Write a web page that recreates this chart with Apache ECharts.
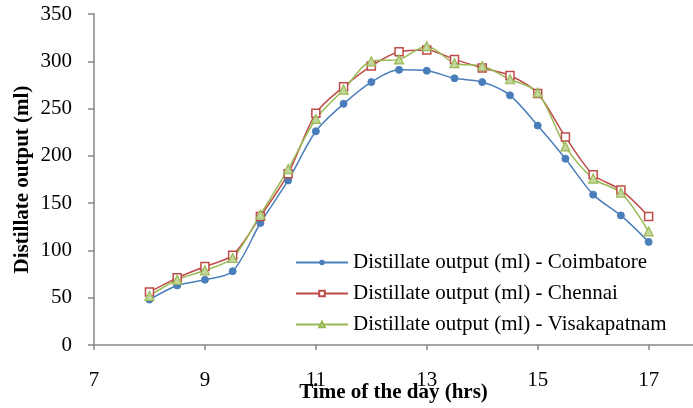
<!DOCTYPE html>
<html>
<head>
<meta charset="utf-8">
<script src="https://cdn.jsdelivr.net/npm/echarts@6/dist/echarts.min.js"></script>
<style>
html,body{margin:0;padding:0;background:#fff;}
#chart{width:693px;height:408px;}
</style>
</head>
<body>
<div id="chart"></div>
<script>
const hours = [8, 8.5, 9, 9.5, 10, 10.5, 11, 11.5, 12, 12.5, 13, 13.5, 14, 14.5, 15, 15.5, 16, 16.5, 17];
const coimbatore = [48, 63, 69, 78, 129, 174, 226, 255, 278, 291, 290, 282, 278, 264, 232, 197, 159, 137, 109];
const chennai = [56, 71, 83, 95, 136, 181, 245, 273, 295, 310, 312, 302, 293, 285, 266, 220, 180, 164, 136];
const visakapatnam = [52, 69, 79, 92, 138, 186, 239, 270, 300, 302, 316, 298, 295, 281, 267, 210, 176, 161, 120];
const xTicks = [7, 9, 11, 13, 15, 17];
const seriesNames = [
  'Distillate output (ml) - Coimbatore',
  'Distillate output (ml) - Chennai',
  'Distillate output (ml) - Visakapatnam'
];
const xTitle = 'Time of the day (hrs)';
const yTitle = 'Distillate output (ml)';

const pair = arr => hours.map((h, i) => [h, arr[i]]);
const FONT = '"Liberation Serif", "Times New Roman", serif';
const axisGray = '#868686';

const chart = echarts.init(document.getElementById('chart'), null, {renderer: 'canvas'});
chart.setOption({
  animation: false,
  backgroundColor: '#fff',
  textStyle: {fontFamily: FONT},
  grid: {left: 94, top: 14, bottom: 63, right: 0, containLabel: false, outerBoundsMode: 'none'},
  xAxis: {
    type: 'value', min: 7, max: 17.8, interval: 2,
    name: xTitle, nameLocation: 'middle', nameGap: 37, nameMoveOverlap: false,
    nameTextStyle: {fontFamily: FONT, fontSize: 21, fontWeight: 'bold', color: '#000'},
    axisLine: {onZero: false, lineStyle: {color: axisGray, width: 1.5}},
    axisTick: {show: true, inside: false, length: 5, lineStyle: {color: axisGray, width: 1.5}},
    axisLabel: {
      fontFamily: FONT, fontSize: 21, color: '#000', margin: 25,
      showMaxLabel: false,
      formatter: v => (xTicks.indexOf(v) >= 0 ? String(v) : '')
    },
    splitLine: {show: false}
  },
  yAxis: {
    type: 'value', min: 0, max: 350, interval: 50,
    name: yTitle, nameLocation: 'middle', nameGap: 61, nameMoveOverlap: false,
    nameTextStyle: {fontFamily: FONT, fontSize: 21, fontWeight: 'bold', color: '#000'},
    axisLine: {show: true, lineStyle: {color: axisGray, width: 1.5}},
    axisTick: {show: true, inside: false, length: 6, lineStyle: {color: axisGray, width: 1.5}},
    axisLabel: {fontFamily: FONT, fontSize: 21, color: '#000', margin: 22},
    splitLine: {show: false}
  },
  legend: {
    orient: 'vertical', left: 295, top: 252, padding: 0,
    itemWidth: 52, itemHeight: 7, itemGap: 10,
    textStyle: {fontFamily: FONT, fontSize: 21, color: '#000'},
    data: seriesNames
  },
  series: [
    {
      name: seriesNames[0], type: 'line', smooth: 0.3,
      data: pair(coimbatore),
      symbol: 'circle', symbolSize: 7,
      lineStyle: {color: '#4A7EBB', width: 1.5},
      itemStyle: {color: '#4A7EBB', borderColor: '#4A7EBB'}
    },
    {
      name: seriesNames[1], type: 'line', smooth: 0.3,
      data: pair(chennai),
      symbol: 'rect', symbolSize: 8,
      lineStyle: {color: '#BE4B48', width: 1.5},
      itemStyle: {color: '#fff', borderColor: '#BE4B48', borderWidth: 1.5}
    },
    {
      name: seriesNames[2], type: 'line', smooth: 0.3,
      data: pair(visakapatnam),
      symbol: 'triangle', symbolSize: 9,
      lineStyle: {color: '#98B954', width: 1.5},
      itemStyle: {color: '#C3D69B', borderColor: '#98B954', borderWidth: 1.2}
    }
  ]
});
</script>
</body>
</html>
